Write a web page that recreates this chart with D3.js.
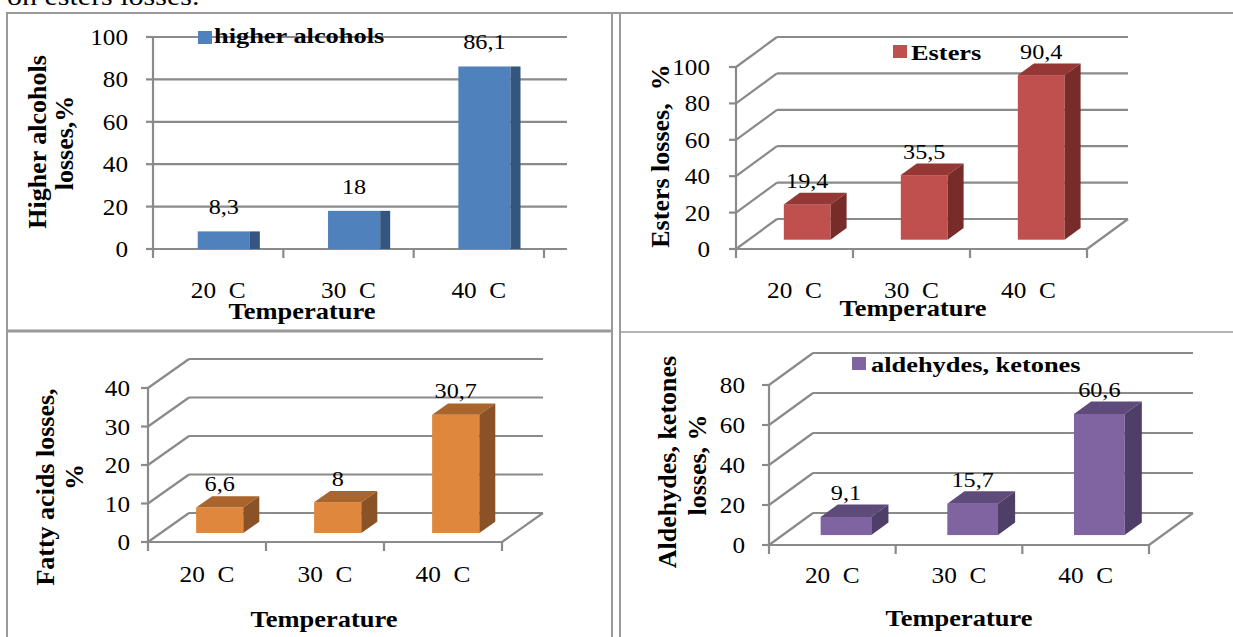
<!DOCTYPE html>
<html><head><meta charset="utf-8">
<script src="https://cdn.jsdelivr.net/npm/d3@7"></script>
<style>
html,body{margin:0;padding:0;background:#fff;}
svg{display:block;font-family:"Liberation Serif","Times New Roman",serif;}
text{white-space:pre;}
</style></head><body>
<svg id="chart" width="1233" height="637"></svg>
<script>
// ---------- data ----------
const categories = ["20  C", "30  C", "40  C"];
const higherAlcohols = [8.3, 18, 86.1];
const esters = [19.4, 35.5, 90.4];
const fattyAcids = [6.6, 8, 30.7];
const aldehydesKetones = [9.1, 15.7, 60.6];
const ticks100 = [0, 20, 40, 60, 80, 100];
const ticks40 = [0, 10, 20, 30, 40];
const ticks80 = [0, 20, 40, 60, 80];
const legendNames = ["higher alcohols", "Esters", "aldehydes, ketones"];
const yTitles = [["Higher alcohols", "losses,%"], ["Esters losses,  %"], ["Fatty acids losses,", "%"], ["Aldehydes, ketones", "losses, %"]];
const xTitle = "Temperature";
const headerText = "on esters losses.";

// ---------- layout / style ----------
const svg = d3.select("#chart");
svg.append("rect").attr("width", 1233).attr("height", 637).attr("fill", "#fff");
const GRID = "#8a8a8a";
const FONT = '"Liberation Serif","Times New Roman",serif';
const fmt = v => String(v).replace(".", ",");

function txt(g, x, y, s, o) {
  o = o || {};
  return g.append("text")
    .attr("transform", `translate(${x},${y})` + (o.rotate ? ` rotate(${o.rotate})` : "") + ` scale(${o.sx || 1},1)`)
    .attr("text-anchor", o.anchor || "start")
    .attr("font-family", FONT)
    .attr("font-size", o.size || 22)
    .attr("font-weight", o.weight || "normal")
    .attr("fill", "#000")
    .text(s);
}

// header fragment
txt(svg, 7, 5, headerText, {size: 25, sx: 1.2});

// table frame
const frame = svg.append("g").attr("stroke", "#9a9a9a").attr("fill", "none");
frame.append("line").attr("x1", 6).attr("x2", 1233).attr("y1", 13).attr("y2", 13).attr("stroke-width", 2);
frame.append("line").attr("x1", 7).attr("x2", 7).attr("y1", 12).attr("y2", 637).attr("stroke-width", 2);
frame.append("line").attr("x1", 612).attr("x2", 612).attr("y1", 12).attr("y2", 637).attr("stroke-width", 2);
frame.append("line").attr("x1", 620).attr("x2", 620).attr("y1", 12).attr("y2", 637).attr("stroke-width", 2);
frame.append("line").attr("x1", 6).attr("x2", 613).attr("y1", 331).attr("y2", 331).attr("stroke-width", 3);
frame.append("line").attr("x1", 619).attr("x2", 1233).attr("y1", 332).attr("y2", 332).attr("stroke-width", 1.5);

const panels = [
  {values: higherAlcohols, ticks: ticks100, max: 100, x0: 153, x1: 544, y0: 249, yTop: 37, flat: true, ext: 23,
   front: "#4F81BD", side: "#34557F", tickGap: 25, tickY: 298, titleX: 302, titleY: 319,
   legend: {name: legendNames[0], sx: 198, sy: 31, tx: 214, ty: 43},
   yt: [{x: 46, y: 142}, {x: 73, y: 143}], ytitle: yTitles[0]},
  {values: esters, ticks: ticks100, max: 100, x0: 736, x1: 1087, y0: 249, yTop: 67, ddx: 41, ddy: -30,
   front: "#C0504D", top: "#953735", side: "#772C2A", tickGap: 26, tickY: 298, titleX: 913, titleY: 316,
   legend: {name: legendNames[1], sx: 893, sy: 45, tx: 911, ty: 60},
   yt: [{x: 669, y: 156}], ytitle: yTitles[1]},
  {values: fattyAcids, ticks: ticks40, max: 40, x0: 148, x1: 502, y0: 542, yTop: 388, ddx: 41, ddy: -29,
   front: "#DF883D", top: "#A9652C", side: "#8A5227", tickGap: 18, tickY: 582, titleX: 324, titleY: 627,
   legend: null,
   yt: [{x: 54, y: 487}, {x: 83, y: 477}], ytitle: yTitles[2]},
  {values: aldehydesKetones, ticks: ticks80, max: 80, x0: 769, x1: 1149, y0: 545, yTop: 385, ddx: 44, ddy: -32,
   front: "#8064A2", top: "#5F4B7B", side: "#4F3E68", tickGap: 24, tickY: 583, titleX: 959, titleY: 626,
   legend: {name: legendNames[2], sx: 852, sy: 357, tx: 871, ty: 372},
   yt: [{x: 676, y: 462}, {x: 706, y: 465}], ytitle: yTitles[3]}
];

panels.forEach(p => {
  const g = svg.append("g");
  const xs = d3.scaleBand().domain(categories).range([p.x0, p.x1]).paddingInner(0).paddingOuter(0);
  const ys = d3.scaleLinear().domain([0, p.max]).range([p.y0, p.yTop]);
  const bw = xs.bandwidth();
  const grid = g.append("g").attr("stroke", GRID).attr("stroke-width", 2.2).attr("fill", "none");

  if (p.flat) {
    p.ticks.forEach(t => {
      grid.append("line").attr("x1", p.x0).attr("x2", p.x1 + p.ext).attr("y1", ys(t)).attr("y2", ys(t));
    });
  } else {
    p.ticks.forEach(t => {
      grid.append("line").attr("x1", p.x0 + p.ddx).attr("x2", p.x1 + p.ddx)
        .attr("y1", ys(t) + p.ddy).attr("y2", ys(t) + p.ddy);
      grid.append("line").attr("x1", p.x0).attr("x2", p.x0 + p.ddx)
        .attr("y1", ys(t)).attr("y2", ys(t) + p.ddy);
    });
    grid.append("line").attr("x1", p.x0).attr("x2", p.x1).attr("y1", p.y0).attr("y2", p.y0);
    grid.append("line").attr("x1", p.x1).attr("x2", p.x1 + p.ddx).attr("y1", p.y0).attr("y2", p.y0 + p.ddy);
  }
  grid.append("line").attr("x1", p.x0).attr("x2", p.x0).attr("y1", ys(p.max)).attr("y2", p.y0);
  p.ticks.forEach(t => {
    grid.append("line").attr("x1", p.x0 - 7).attr("x2", p.x0).attr("y1", ys(t)).attr("y2", ys(t));
  });
  const edges = categories.map(c => xs(c)).concat([p.x1]);
  edges.forEach(e => {
    grid.append("line").attr("x1", e).attr("x2", e).attr("y1", p.y0).attr("y2", p.y0 + 9);
  });

  p.ticks.forEach(t => {
    txt(g, p.x0 - p.tickGap, ys(t) + 8, String(t), {size: 24, sx: 1.05, anchor: "end"});
  });
  categories.forEach(c => {
    txt(g, xs(c) + bw / 2, p.tickY, c, {size: 23, sx: 1.1, anchor: "middle"});
  });
  txt(g, p.titleX, p.titleY, xTitle, {size: 23, sx: 1.15, weight: "bold", anchor: "middle"});
  p.ytitle.forEach((line, i) => {
    txt(g, p.yt[i].x, p.yt[i].y, line, {size: 26, weight: "bold", anchor: "middle", rotate: -90});
  });

  const bars = g.append("g");
  p.values.forEach((v, i) => {
    const c = categories[i];
    const w = bw * 0.4;
    if (p.flat) {
      const fx = xs(c) + bw * 0.343;
      bars.append("rect").attr("x", fx).attr("y", ys(v)).attr("width", w).attr("height", p.y0 - ys(v)).attr("fill", p.front);
      bars.append("rect").attr("x", fx + w).attr("y", ys(v)).attr("width", 10).attr("height", p.y0 - ys(v)).attr("fill", p.side);
      txt(g, fx + w / 2, ys(v) - 17, fmt(v), {size: 22, sx: 1.1, anchor: "middle"});
    } else {
      const f1 = 0.31, f2 = 0.7;
      const fx = xs(c) + (bw - w) / 2 + f1 * p.ddx;
      const fyTop = ys(v) + f1 * p.ddy, fyBot = ys(0) + f1 * p.ddy;
      const bdx = (f2 - f1) * p.ddx, bdy = (f2 - f1) * p.ddy;
      bars.append("rect").attr("x", fx).attr("y", fyTop).attr("width", w).attr("height", fyBot - fyTop).attr("fill", p.front);
      bars.append("path").attr("fill", p.top)
        .attr("d", `M${fx},${fyTop}L${fx + bdx},${fyTop + bdy}L${fx + w + bdx},${fyTop + bdy}L${fx + w},${fyTop}Z`);
      bars.append("path").attr("fill", p.side)
        .attr("d", `M${fx + w},${fyTop}L${fx + w + bdx},${fyTop + bdy}L${fx + w + bdx},${fyBot + bdy}L${fx + w},${fyBot}Z`);
      txt(g, fx + w / 2, fyTop - 16.5, fmt(v), {size: 22, sx: 1.1, anchor: "middle"});
    }
  });

  if (p.legend) {
    g.append("rect").attr("x", p.legend.sx).attr("y", p.legend.sy).attr("width", 14).attr("height", 13).attr("fill", p.front);
    txt(g, p.legend.tx, p.legend.ty, p.legend.name, {size: 22, sx: 1.2, weight: "bold"});
  }
});
</script>
</body></html>
